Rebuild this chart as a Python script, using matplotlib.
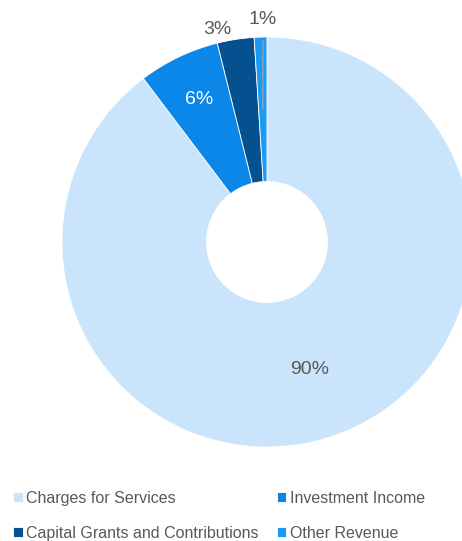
import numpy as np
import matplotlib.pyplot as plt

plt.rcParams.update({
    "font.family": ["Liberation Sans", "DejaVu Sans"],
    "font.size": 10,
})

# revenue shares (%)
categories = ["Charges for Services", "Investment Income",
              "Capital Grants and Contributions", "Other Revenue"]
shares = [89.7, 6.4, 2.9, 1.0]
labels = ["90%", "6%", "3%", "1%"]
colors = ["#C9E4FB", "#0A87E8", "#05508F", "#1C9AF3"]

W, H, DPI = 462, 541, 100
R_PX = 205
CX, CY = 267, 242  # donut centre, px from top-left

fig = plt.figure(figsize=(W / DPI, H / DPI), dpi=DPI)
ax = fig.add_axes([0, 0, 1, 1])

wedges, _ = ax.pie(
    shares,
    colors=colors,
    startangle=90,
    counterclock=False,
    radius=1.0,
    wedgeprops=dict(width=0.705, edgecolor="white", linewidth=0.6),
)
# pie() resets the limits, so set them afterwards
ax.set_xlim(-CX / R_PX, (W - CX) / R_PX)
ax.set_ylim(-(H - CY) / R_PX, CY / R_PX)
ax.set_aspect("equal")
ax.axis("off")

grey = "#595959"
fs = 14

def mid_angle(w):
    return np.deg2rad((w.theta1 + w.theta2) / 2)

# inside labels
a = mid_angle(wedges[0])
ax.text(0.655 * np.cos(a), 0.655 * np.sin(a), labels[0], ha="center", va="center",
        fontsize=fs, color=grey)
a = mid_angle(wedges[1])
ax.text(0.77 * np.cos(a), 0.77 * np.sin(a), labels[1], ha="center", va="center",
        fontsize=fs, color="white")

# outside labels for the small slices
ax.text(-0.24, 1.035, labels[2], ha="center", va="center", fontsize=fs, color=grey)
a = mid_angle(wedges[3])
ax.annotate(labels[3], xy=(0.65 * np.cos(a), 0.65 * np.sin(a)),
            xytext=(-0.02, 1.085), ha="center", va="center", fontsize=fs, color=grey,
            arrowprops=dict(arrowstyle="-", color="#A6A6A6", lw=0.8,
                            shrinkA=7, shrinkB=0))

# legend fills column-wise: put entries in the order that gives two rows
order = [0, 2, 1, 3]
leg = fig.legend(
    [wedges[i] for i in order], [categories[i] for i in order],
    loc="upper left", bbox_to_anchor=(0.01, 0.108),
    ncol=2, frameon=False, fontsize=11.5,
    handlelength=0.62, handleheight=0.62, handletextpad=0.2,
    columnspacing=1.15, labelspacing=1.25, borderpad=0,
)
for t in leg.get_texts():
    t.set_color(grey)

fig.savefig("out.png", dpi=DPI)
